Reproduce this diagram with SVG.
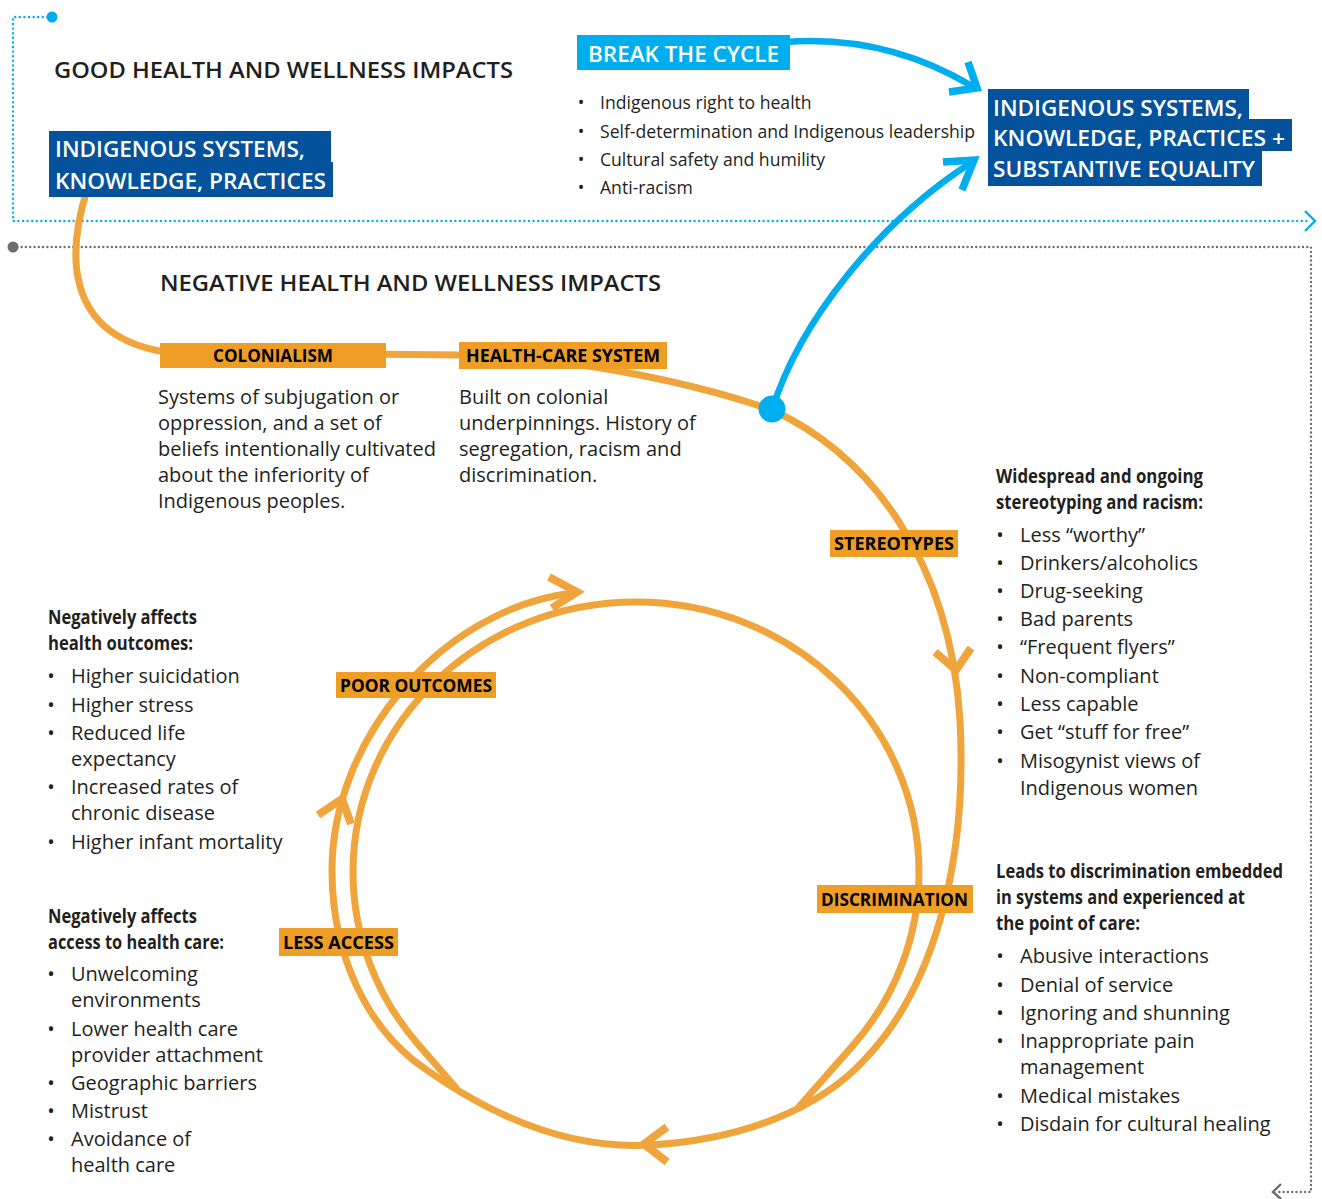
<svg xmlns="http://www.w3.org/2000/svg" width="1322" height="1199" viewBox="0 0 1322 1199">
  <style>
    text { font-family: "Open Sans", "Liberation Sans", sans-serif; fill: #231F20; }
    .title { font-size: 22px; font-weight: 600; }
    .body { font-size: 20px; }
    .small { font-size: 17.6px; }
    .head { font-size: 20px; font-weight: 700; }
    .lbl { font-size: 18px; font-weight: 700; fill: #000; }
    .wt { font-size: 22px; font-weight: 600; fill: #fff; }
    .bul { text-anchor: middle; }
    .lbox { fill: #EE9D25; }
    .bbox { fill: #04529C; }
    .cbox { fill: #00AEEF; }
    .flow { fill: none; stroke: #EFA53B; stroke-width: 7; }
    .head-o { fill: none; stroke: #EFA53B; stroke-width: 8; stroke-linejoin: miter; }
    .flow-b { fill: none; stroke: #00AEEF; stroke-width: 6.5; }
    .head-b { fill: none; stroke: #00AEEF; stroke-width: 7.5; stroke-linejoin: miter; }
    .dot-c { fill: none; stroke: #00AEEF; stroke-width: 2.4; stroke-linecap: round; stroke-dasharray: 0 4.6; }
    .dot-g { fill: none; stroke: #6D6E71; stroke-width: 2.4; stroke-linecap: round; stroke-dasharray: 0 4.3; }
  </style>

  <!-- section dividers -->
  <g id="dividers">
    <circle cx="52" cy="17" r="5.5" fill="#00AEEF"/>
    <path class="dot-c" d="M 52 17 L 13 17 L 13 221 L 1309 221"/>
    <path d="M 1305 211 L 1315 221 L 1305 231" fill="none" stroke="#00AEEF" stroke-width="2.4"/>
    <circle cx="13" cy="247" r="5.5" fill="#6D6E71"/>
    <path class="dot-g" d="M 13 247 L 1311 247 L 1311 1192 L 1279 1192"/>
    <path d="M 1281 1184 L 1273 1192 L 1281 1199" fill="none" stroke="#6D6E71" stroke-width="2.4"/>
  </g>

  <!-- section titles -->
  <text class="title" x="54" y="78" textLength="459" lengthAdjust="spacingAndGlyphs">GOOD HEALTH AND WELLNESS IMPACTS</text>
  <text class="title" x="160" y="291" textLength="501" lengthAdjust="spacingAndGlyphs">NEGATIVE HEALTH AND WELLNESS IMPACTS</text>

  <!-- connectors -->
  <g id="connectors">
    <!-- main path: knowledge -> colonialism -> health-care -> outer loop -->
    <path class="flow" d="M 87 190 C 68 250, 62 335, 165 352 L 460 355"/>
    <path class="flow" d="M 560 362 C 620 370, 700 385, 772 410
                          C 870 455, 950 560, 960 720
                          C 968 870, 930 990, 867 1057
                          C 820 1110, 740 1140, 650 1145
                          C 560 1150, 480 1110, 413 1060
                          C 370 1025, 332 960, 332 870
                          C 332 740, 440 610, 572 593"/>
    <!-- inner loop: elliptical, branching off and rejoining the outer loop -->
    <path class="flow" d="M 457 1089 L 419.2 1045.6
                          C 376.4 997, 353 935.5, 353 872
                          C 353 722.9, 479.7 602, 636 602
                          C 792.3 602, 919 722.9, 919 872
                          C 919 935.5, 895.6 997, 852.8 1045.6
                          L 797 1109"/>
    <!-- loop arrowheads -->
    <path class="head-o" d="M 549 577 L 577 592 L 552 608"/>
    <path class="head-o" d="M 935 652 L 956 670 L 971 648"/>
    <path class="head-o" d="M 667 1127 L 644 1144 L 667 1162"/>
    <path class="head-o" d="M 318 815 L 342 799 L 351 824"/>
    <!-- break the cycle arrows -->
    <path class="flow-b" d="M 785 42 C 860 36, 920 55, 972 86"/>
    <path class="head-b" d="M 968 62 L 977 88 L 949 92"/>
    <path class="flow-b" d="M 772 410 C 800 320, 880 222, 969 164"/>
    <path class="head-b" d="M 943 162 L 974 160 L 962 190"/>
    <circle cx="772" cy="409" r="13.5" fill="#00AEEF"/>
  </g>

  <!-- good health: knowledge (left) -->
  <g id="node-knowledge">
    <rect class="bbox" x="49" y="131" width="282" height="32"/>
    <rect class="bbox" x="49" y="162" width="284" height="35"/>
    <text class="wt" x="55" y="157" textLength="250" lengthAdjust="spacingAndGlyphs">INDIGENOUS SYSTEMS,</text>
    <text class="wt" x="55" y="189" textLength="271" lengthAdjust="spacingAndGlyphs">KNOWLEDGE, PRACTICES</text>
  </g>

  <!-- break the cycle -->
  <g id="node-break">
    <rect class="cbox" x="577" y="35" width="213" height="35"/>
    <text class="wt" x="588" y="62" textLength="191" lengthAdjust="spacingAndGlyphs">BREAK THE CYCLE</text>
    <text class="small bul" x="581" y="109">•</text>
    <text class="small" x="600" y="109">Indigenous right to health</text>
    <text class="small bul" x="581" y="138">•</text>
    <text class="small" x="600" y="138" textLength="375" lengthAdjust="spacingAndGlyphs">Self-determination and Indigenous leadership</text>
    <text class="small bul" x="581" y="166">•</text>
    <text class="small" x="600" y="166">Cultural safety and humility</text>
    <text class="small bul" x="581" y="194">•</text>
    <text class="small" x="600" y="194">Anti-racism</text>
  </g>

  <!-- goal -->
  <g id="node-equality">
    <rect class="bbox" x="988" y="89" width="261" height="31"/>
    <rect class="bbox" x="988" y="119" width="304" height="32"/>
    <rect class="bbox" x="988" y="150" width="274" height="36"/>
    <text class="wt" x="993" y="116" textLength="250" lengthAdjust="spacingAndGlyphs">INDIGENOUS SYSTEMS,</text>
    <text class="wt" x="993" y="146" textLength="292" lengthAdjust="spacingAndGlyphs">KNOWLEDGE, PRACTICES +</text>
    <text class="wt" x="993" y="177" textLength="262" lengthAdjust="spacingAndGlyphs">SUBSTANTIVE EQUALITY</text>
  </g>

  <!-- colonialism -->
  <g id="node-colonialism">
    <rect class="lbox" x="160" y="343" width="226" height="25"/>
    <text class="lbl" x="213" y="362" textLength="120" lengthAdjust="spacingAndGlyphs">COLONIALISM</text>
    <text class="body" x="158" y="404">Systems of subjugation or</text>
    <text class="body" x="158" y="430">oppression, and a set of</text>
    <text class="body" x="158" y="456">beliefs intentionally cultivated</text>
    <text class="body" x="158" y="482">about the inferiority of</text>
    <text class="body" x="158" y="508">Indigenous peoples.</text>
  </g>

  <!-- health-care system -->
  <g id="node-healthcare">
    <rect class="lbox" x="459" y="342" width="208" height="27"/>
    <text class="lbl" x="466" y="362" textLength="194" lengthAdjust="spacingAndGlyphs">HEALTH-CARE SYSTEM</text>
    <text class="body" x="459" y="404">Built on colonial</text>
    <text class="body" x="459" y="430">underpinnings. History of</text>
    <text class="body" x="459" y="456">segregation, racism and</text>
    <text class="body" x="459" y="482">discrimination.</text>
  </g>

  <!-- stereotypes -->
  <g id="node-stereotypes">
    <rect class="lbox" x="830" y="530" width="128" height="27"/>
    <text class="lbl" x="834" y="550" textLength="120" lengthAdjust="spacingAndGlyphs">STEREOTYPES</text>
    <text class="head" x="996" y="483" textLength="207" lengthAdjust="spacingAndGlyphs">Widespread and ongoing</text>
    <text class="head" x="996" y="509" textLength="207" lengthAdjust="spacingAndGlyphs">stereotyping and racism:</text>
    <text class="body bul" x="1000" y="542">•</text>
    <text class="body" x="1020" y="542">Less “worthy”</text>
    <text class="body bul" x="1000" y="570">•</text>
    <text class="body" x="1020" y="570">Drinkers/alcoholics</text>
    <text class="body bul" x="1000" y="598">•</text>
    <text class="body" x="1020" y="598">Drug-seeking</text>
    <text class="body bul" x="1000" y="626">•</text>
    <text class="body" x="1020" y="626">Bad parents</text>
    <text class="body bul" x="1000" y="654">•</text>
    <text class="body" x="1020" y="654">“Frequent flyers”</text>
    <text class="body bul" x="1000" y="683">•</text>
    <text class="body" x="1020" y="683">Non-compliant</text>
    <text class="body bul" x="1000" y="711">•</text>
    <text class="body" x="1020" y="711">Less capable</text>
    <text class="body bul" x="1000" y="739">•</text>
    <text class="body" x="1020" y="739">Get “stuff for free”</text>
    <text class="body bul" x="1000" y="768">•</text>
    <text class="body" x="1020" y="768">Misogynist views of</text>
    <text class="body" x="1020" y="795">Indigenous women</text>
  </g>

  <!-- discrimination -->
  <g id="node-discrimination">
    <rect class="lbox" x="817" y="885" width="156" height="28"/>
    <text class="lbl" x="821" y="906" textLength="147" lengthAdjust="spacingAndGlyphs">DISCRIMINATION</text>
    <text class="head" x="996" y="878" textLength="287" lengthAdjust="spacingAndGlyphs">Leads to discrimination embedded</text>
    <text class="head" x="996" y="904" textLength="249" lengthAdjust="spacingAndGlyphs">in systems and experienced at</text>
    <text class="head" x="996" y="930" textLength="144" lengthAdjust="spacingAndGlyphs">the point of care:</text>
    <text class="body bul" x="1000" y="963">•</text>
    <text class="body" x="1020" y="963">Abusive interactions</text>
    <text class="body bul" x="1000" y="992">•</text>
    <text class="body" x="1020" y="992">Denial of service</text>
    <text class="body bul" x="1000" y="1020">•</text>
    <text class="body" x="1020" y="1020">Ignoring and shunning</text>
    <text class="body bul" x="1000" y="1048">•</text>
    <text class="body" x="1020" y="1048">Inappropriate pain</text>
    <text class="body" x="1020" y="1074">management</text>
    <text class="body bul" x="1000" y="1103">•</text>
    <text class="body" x="1020" y="1103">Medical mistakes</text>
    <text class="body bul" x="1000" y="1131">•</text>
    <text class="body" x="1020" y="1131">Disdain for cultural healing</text>
  </g>

  <!-- less access -->
  <g id="node-access">
    <rect class="lbox" x="279" y="928" width="119" height="28"/>
    <text class="lbl" x="283" y="949" textLength="111" lengthAdjust="spacingAndGlyphs">LESS ACCESS</text>
    <text class="head" x="48" y="923" textLength="149" lengthAdjust="spacingAndGlyphs">Negatively affects</text>
    <text class="head" x="48" y="949" textLength="176" lengthAdjust="spacingAndGlyphs">access to health care:</text>
    <text class="body bul" x="51" y="981">•</text>
    <text class="body" x="71" y="981">Unwelcoming</text>
    <text class="body" x="71" y="1007">environments</text>
    <text class="body bul" x="51" y="1036">•</text>
    <text class="body" x="71" y="1036">Lower health care</text>
    <text class="body" x="71" y="1062">provider attachment</text>
    <text class="body bul" x="51" y="1090">•</text>
    <text class="body" x="71" y="1090">Geographic barriers</text>
    <text class="body bul" x="51" y="1118">•</text>
    <text class="body" x="71" y="1118">Mistrust</text>
    <text class="body bul" x="51" y="1146">•</text>
    <text class="body" x="71" y="1146">Avoidance of</text>
    <text class="body" x="71" y="1172">health care</text>
  </g>

  <!-- poor outcomes -->
  <g id="node-outcomes">
    <rect class="lbox" x="336" y="672" width="160" height="26"/>
    <text class="lbl" x="340" y="692" textLength="152" lengthAdjust="spacingAndGlyphs">POOR OUTCOMES</text>
    <text class="head" x="48" y="624" textLength="149" lengthAdjust="spacingAndGlyphs">Negatively affects</text>
    <text class="head" x="48" y="650" textLength="145" lengthAdjust="spacingAndGlyphs">health outcomes:</text>
    <text class="body bul" x="51" y="683">•</text>
    <text class="body" x="71" y="683">Higher suicidation</text>
    <text class="body bul" x="51" y="712">•</text>
    <text class="body" x="71" y="712">Higher stress</text>
    <text class="body bul" x="51" y="740">•</text>
    <text class="body" x="71" y="740">Reduced life</text>
    <text class="body" x="71" y="766">expectancy</text>
    <text class="body bul" x="51" y="794">•</text>
    <text class="body" x="71" y="794">Increased rates of</text>
    <text class="body" x="71" y="820">chronic disease</text>
    <text class="body bul" x="51" y="849">•</text>
    <text class="body" x="71" y="849">Higher infant mortality</text>
  </g>
</svg>
